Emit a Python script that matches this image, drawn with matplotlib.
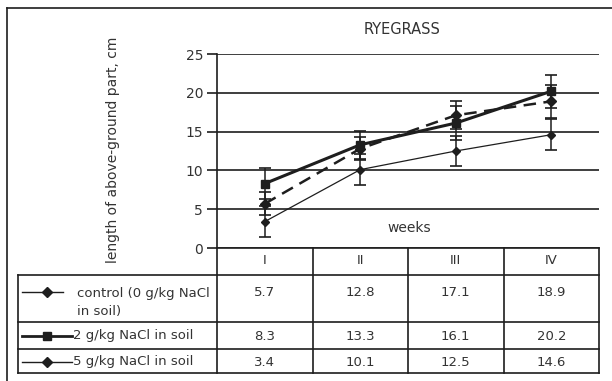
import numpy as np
import matplotlib
matplotlib.use("Agg")
import matplotlib.pyplot as plt
from matplotlib import transforms

weeks = ["I", "II", "III", "IV"]
control = [5.7, 12.8, 17.1, 18.9]
nacl2 = [8.3, 13.3, 16.1, 20.2]
nacl5 = [3.4, 10.1, 12.5, 14.6]
# error bars (approximate)
err_control = [1.5, 1.5, 1.8, 2.1]
err_nacl2 = [2.0, 1.8, 2.2, 2.1]
err_nacl5 = [2.0, 2.0, 1.9, 2.0]
names = ["control (0 g/kg NaCl\nin soil)", "2 g/kg NaCl in soil", "5 g/kg NaCl in soil"]

plt.rcParams['font.family'] = ['DejaVu Sans']
plt.rcParams['font.size'] = 9.5
ink = '#1e1e1e'
txt = '#333333'

W, H = 612, 381
fig = plt.figure(figsize=(W/100, H/100), dpi=100)

# main plot
ax = fig.add_axes([217/W, 1-248/H, 382/W, 194/H])
x = np.arange(len(weeks))
eb = dict(color=ink, capsize=4, capthick=1.2, elinewidth=1.1, mfc=ink, mec=ink)
ax.errorbar(x, nacl5, yerr=err_nacl5, lw=0.9, marker='D', ms=4.5, **eb)
ax.errorbar(x, control, yerr=err_control, lw=1.8, ls=(0, (5, 3)), marker='D', ms=5, **eb)
ax.errorbar(x, nacl2, yerr=err_nacl2, lw=2.2, marker='s', ms=6, **eb)

ax.set_xlim(-0.5, len(weeks)-0.5)
ax.set_ylim(0, 25)
ax.set_yticks(range(0, 26, 5))
ax.set_xticks([])
ax.yaxis.grid(True, color=ink, lw=1.2)
ax.set_axisbelow(True)
for s in ['top', 'right']:
    ax.spines[s].set_visible(False)
ax.spines['left'].set_linewidth(1.2)
ax.spines['bottom'].set_linewidth(1.2)
ax.spines['left'].set_color(ink)
ax.spines['bottom'].set_color(ink)
ax.tick_params(axis='y', length=7, width=1.2, color=ink, labelcolor=txt, labelsize=10, pad=3)
ax.patch.set_alpha(0)

# overlay in pixel coordinates for frame, titles and data table
ov = fig.add_axes([0, 0, 1, 1], zorder=-1)
ov.set_xlim(0, W)
ov.set_ylim(H, 0)
ov.axis('off')
bt = transforms.blended_transform_factory(ax.transData, ov.transData)

ov.plot([7, 7], [8, H], color=ink, lw=1.2)
ov.plot([7, W], [8, 8], color=ink, lw=1.2)

ov.text(402, 30, "RYEGRASS", ha='center', va='center', color=txt, fontsize=10.5)
ov.text(409, 228, "weeks", ha='center', va='center', color=txt, fontsize=10)
ov.text(113, 150, "length of above-ground part, cm", rotation=90,
        ha='center', va='center', color=txt, fontsize=10)

rows = [248, 275, 322, 349, 373]
left, right = 18, 599
edges = np.arange(len(weeks)+1) - 0.5
for xe in edges:
    ov.plot([xe, xe], [rows[0], rows[-1]], transform=bt, color=ink, lw=1.2)
ov.plot([left, left], [rows[1], rows[-1]], color=ink, lw=1.2)
for yr in rows[1:]:
    ov.plot([left, right], [yr, yr], color=ink, lw=1.2)

for i, w in enumerate(weeks):
    ov.text(i, 261, w, transform=bt, ha='center', va='center', color=txt)

row_y = [292, 336, 362]
for series, yy in zip([control, nacl2, nacl5], row_y):
    for i, v in enumerate(series):
        ov.text(i, yy, f"{v:.1f}", transform=bt, ha='center', va='center', color=txt)

# legend keys
ov.plot([22, 63], [292, 292], color=ink, lw=1.0)
ov.plot([47], [292], marker='D', ms=5, color=ink)
ov.text(77, 302, names[0], ha='left', va='center', color=txt, linespacing=1.5)
ov.plot([22, 72], [336, 336], color=ink, lw=2.0)
ov.plot([47], [336], marker='s', ms=5.5, color=ink)
ov.text(73, 336, names[1], ha='left', va='center', color=txt)
ov.plot([22, 72], [362, 362], color=ink, lw=1.0)
ov.plot([47], [362], marker='D', ms=5, color=ink)
ov.text(73, 362, names[2], ha='left', va='center', color=txt)

fig.savefig("out.png", dpi=100)
